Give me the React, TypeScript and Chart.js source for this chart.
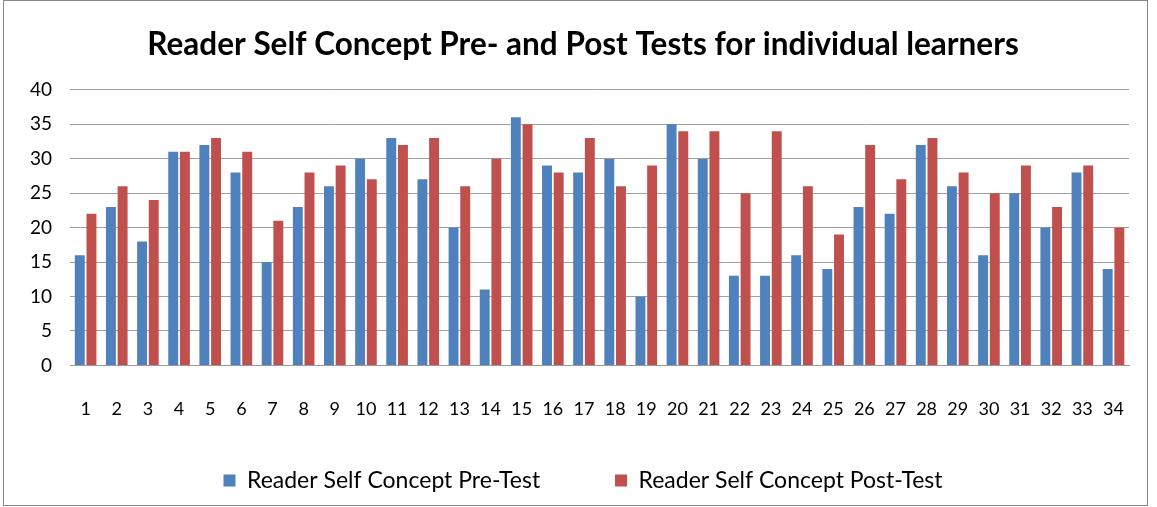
import React, { useEffect, useRef } from "react";
import { Chart, registerables } from "chart.js";

Chart.register(...registerables);

const categories = ["1","2","3","4","5","6","7","8","9","10","11","12","13","14","15","16","17","18","19","20","21","22","23","24","25","26","27","28","29","30","31","32","33","34"];
const preTest = [16,23,18,31,32,28,15,23,26,30,33,27,20,11,36,29,28,30,10,35,30,13,13,16,14,23,22,32,26,16,25,20,28,14];
const postTest = [22,26,24,31,33,31,21,28,29,27,32,33,26,30,35,28,33,26,29,34,34,25,34,26,19,32,27,33,28,25,29,23,29,20];
const titleText = "Reader Self Concept Pre- and Post Tests for individual learners";
const seriesNames = ["Reader Self Concept Pre-Test", "Reader Self Concept Post-Test"];

export default function App() {
  const ref = useRef<HTMLCanvasElement | null>(null);
  useEffect(() => {
    if (!ref.current) return;
    const font = "Lato, 'Noto Sans', sans-serif";
    const chart = new Chart(ref.current, {
      type: "bar",
      data: {
        labels: categories,
        datasets: [
          { label: seriesNames[0], data: preTest, backgroundColor: "#4F81BD", categoryPercentage: 0.75, barPercentage: 0.85 },
          { label: seriesNames[1], data: postTest, backgroundColor: "#C0504D", categoryPercentage: 0.75, barPercentage: 0.85 },
        ],
      },
      options: {
        animation: false,
        responsive: false,
        maintainAspectRatio: false,
        layout: { padding: { left: 12, right: 3, top: 26, bottom: 5 } },
        plugins: {
          title: {
            display: true,
            text: titleText,
            color: "#000",
            font: { family: font, size: 31.5, weight: "bold" },
            padding: { top: 0, bottom: 26 },
          },
          legend: {
            position: "bottom",
            labels: {
              color: "#000",
              font: { family: font, size: 23 },
              boxWidth: 12,
              boxHeight: 12,
              padding: 16,
              generateLabels: (c: any) => {
                const items = Chart.defaults.plugins.legend.labels.generateLabels(c);
                items.forEach((it: any, i: number) => {
                  if (i < items.length - 1) it.text = it.text + "          ";
                });
                return items;
              },
            },
          },
          tooltip: { enabled: false },
        },
        scales: {
          x: {
            grid: { display: false, drawTicks: false },
            border: { display: true, color: "#999", width: 1 },
            ticks: { color: "#000", font: { family: font, size: 18 }, padding: 33, maxRotation: 0, autoSkip: false },
          },
          y: {
            min: 0,
            max: 40,
            grid: { color: "#a0a0a0", drawTicks: false },
            border: { display: false },
            ticks: { stepSize: 5, color: "#000", font: { family: font, size: 19 }, padding: 18 },
          },
        },
      },
    });
    return () => chart.destroy();
  }, []);
  return (
    <div style={{ position: "absolute", left: 0, top: 0, width: 1157, height: 507, background: "#fff" }}>
      <canvas ref={ref} width={1157} height={507} style={{ position: "absolute", left: 0, top: 0 }} />
      <div style={{ position: "absolute", left: 3, top: 0, width: 1143, height: 504, border: "1px solid #888", pointerEvents: "none" }} />
    </div>
  );
}
